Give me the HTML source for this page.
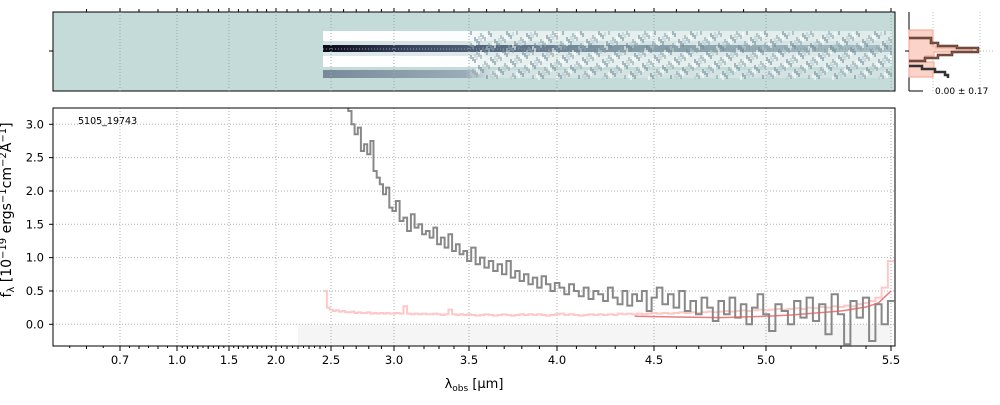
<!DOCTYPE html>
<html><head><meta charset="utf-8"><style>
body{margin:0;background:#fff;}
svg{font-family:"DejaVu Sans","Liberation Sans",sans-serif;}
</style></head><body>
<svg id="c" width="1000" height="400" viewBox="0 0 1000 400">
<defs>
<linearGradient id="trace" x1="0" x2="1" y1="0" y2="0">
<stop offset="0" stop-color="#0a0a18"/><stop offset="0.15" stop-color="#3a4460"/><stop offset="0.5" stop-color="#7f97a4"/><stop offset="1" stop-color="#a9c0c4"/>
</linearGradient>
<linearGradient id="wband" x1="0" x2="1" y1="0" y2="0">
<stop offset="0" stop-color="#fff" stop-opacity="1"/><stop offset="0.25" stop-color="#fff" stop-opacity="0.95"/><stop offset="0.3" stop-color="#fff" stop-opacity="0.6"/><stop offset="1" stop-color="#fff" stop-opacity="0.45"/>
</linearGradient>
<linearGradient id="gband" x1="0" x2="1" y1="0" y2="0">
<stop offset="0" stop-color="#6f8092" stop-opacity="0.9"/><stop offset="0.25" stop-color="#8fa0ae" stop-opacity="0.8"/><stop offset="0.3" stop-color="#dfe8ea" stop-opacity="0.6"/><stop offset="1" stop-color="#dfe8ea" stop-opacity="0.5"/>
</linearGradient>
</defs>
<g id="p2d">
<rect x="53" y="12" width="842" height="79" fill="#c5dbd9"/>
<rect x="323" y="31" width="569" height="10" fill="url(#wband)"/>
<rect x="323" y="41" width="569" height="4" fill="#dde8ea" opacity="0.7"/>
<rect x="323" y="45" width="569" height="7" fill="url(#trace)"/>
<rect x="323" y="52" width="569" height="4" fill="#e6eef0" opacity="0.7"/>
<rect x="323" y="56" width="569" height="11" fill="url(#wband)"/>
<rect x="323" y="70" width="569" height="8" fill="url(#gband)"/>
<g id="noise"></g>
<rect x="53" y="12" width="842" height="79" fill="none" stroke="#000" stroke-width="1"/>
</g>
<g id="side">
<line x1="909" y1="12" x2="909" y2="91" stroke="#000"/>
<line x1="909" y1="91" x2="923" y2="91" stroke="#000"/>
<line x1="933" y1="12" x2="933" y2="91" stroke="#bbb" stroke-dasharray="1,2"/>
<line x1="980" y1="12" x2="980" y2="91" stroke="#bbb" stroke-dasharray="1,2"/>
<line x1="905" y1="51" x2="995" y2="51" stroke="#bbb" stroke-dasharray="1,2"/>
<path d="M909,30 H933 V46 H936 V48 H972 V52 H934 V56 H925 V62 H934 V72 H933 V77 H909 Z" fill="#fbd3c8" stroke="#f4a08a"/>
<polyline points="909,38 931,38 931,43 938,43 938,46 957,46 957,48 978,48 978,52 952,52 952,55 938,55 938,58 925,58 925,61 909,61" fill="none" stroke="#333" stroke-width="2.5"/>
<polyline points="909,38 931,38 931,43 938,43 938,46 957,46 957,48 978,48 978,52 952,52 952,55 938,55 938,58 925,58 925,61 909,61" fill="none" stroke="#c05a3a" stroke-width="1"/>
<polyline points="909,66 922,66 922,69 935,69 935,72 945,72 945,75 948,75 948,78" fill="none" stroke="#333" stroke-width="2.5"/>
<line x1="905" y1="51" x2="909" y2="51" stroke="#000"/>
<text x="935" y="94" font-size="9">0.00 ± 0.17</text>
</g>
<g id="main"></g>
<text x="78" y="124" font-size="9.5">5105_19743</text>
<text x="474" y="388" font-size="13" text-anchor="middle">λ<tspan font-size="9" dy="3">obs</tspan><tspan dy="-3"> [μm]</tspan></text>
<text transform="translate(11,210) rotate(-90)" font-size="14" text-anchor="middle">f<tspan font-size="10" dy="3">λ</tspan><tspan dy="-3"> [10</tspan><tspan font-size="10" dy="-5">−19</tspan><tspan dy="5"> ergs</tspan><tspan font-size="10" dy="-5">−1</tspan><tspan dy="5">cm</tspan><tspan font-size="10" dy="-5">−2</tspan><tspan dy="5">Å</tspan><tspan font-size="10" dy="-5">−1</tspan><tspan dy="5">]</tspan></text>
</svg>
<script>
const xTicks=[0.7,1.0,1.5,2.0,2.5,3.0,3.5,4.0,4.5,5.0,5.5];
const xTickLabels=["0.7","1.0","1.5","2.0","2.5","3.0","3.5","4.0","4.5","5.0","5.5"];
const yTicks=[0,0.5,1,1.5,2,2.5,3];
const yTickLabels=["0.0","0.5","1.0","1.5","2.0","2.5","3.0"];
const waveStart=2.45, waveStep=0.025;
const flux=[4.8,4.6,4.4,4.2,4.0,3.8,3.6,3.4,3.2,
3.0,2.85,2.95,2.6,2.7,2.55,2.75,2.3,2.2,2.1,1.95,2.05,1.75,1.7,1.85,1.55,1.6,1.4,1.65,1.45,1.5,1.35,1.4,1.3,1.45,1.2,1.3,1.15,1.35,1.1,1.2,1.05,1.1,0.95,1.15,0.9,1.0,0.85,0.95,0.8,0.9,0.75,0.95,0.7,0.8,0.65,0.75,0.6,0.7,0.55,0.72,0.6,0.5,0.62,0.55,0.45,0.6,0.5,0.42,0.55,0.38,0.5,0.45,0.35,0.55,0.4,0.3,0.5,0.28,0.45,0.35,0.5,0.2,0.4,0.55,0.3,0.45,0.25,0.5,0.2,0.35,0.15,0.4,0.25,0.05,0.35,0.15,0.4,0.1,0.3,0.0,0.25,0.45,0.15,-0.1,0.3,0.2,0.0,0.35,0.1,0.4,0.05,0.3,-0.15,0.45,0.15,-0.3,0.35,0.1,0.4,-0.25,0.3,0.0,0.35];
const err=[0.5,0.25,0.22,0.2,0.21,0.19,0.2,0.18,0.18,0.19,0.17,0.18,0.17,0.17,0.18,0.16,0.17,0.16,0.17,0.16,0.17,0.16,0.16,0.17,0.16,0.27,0.16,0.15,0.16,0.15,0.16,0.15,0.15,0.16,0.15,0.14,0.15,0.22,0.15,0.14,0.15,0.14,0.15,0.14,0.13,0.14,0.15,0.14,0.13,0.14,0.15,0.14,0.13,0.14,0.15,0.14,0.15,0.14,0.15,0.14,0.13,0.14,0.15,0.16,0.14,0.15,0.14,0.13,0.14,0.15,0.14,0.15,0.14,0.15,0.14,0.16,0.15,0.16,0.15,0.16,0.15,0.16,0.17,0.16,0.17,0.16,0.17,0.18,0.17,0.18,0.17,0.18,0.19,0.18,0.19,0.2,0.19,0.2,0.21,0.2,0.21,0.22,0.21,0.22,0.23,0.22,0.23,0.24,0.23,0.25,0.24,0.26,0.25,0.27,0.26,0.28,0.27,0.3,0.32,0.35,0.4,0.55,0.95];
const modelWave=[4.4,4.6,4.8,5.0,5.1,5.2,5.3,5.4,5.45,5.5];
const model=[0.12,0.11,0.1,0.12,0.14,0.17,0.2,0.26,0.32,0.5];
const shadeRange=[2.2,5.5];

const svg=document.getElementById('c'), main=document.getElementById('main');
const NS='http://www.w3.org/2000/svg';
const L=53,R=895,T=108,B=346;
const xKnots=[[0.5,53],[0.7,120],[1.0,177],[1.5,229],[2.0,276],[2.5,331],[3.0,394],[3.5,469],[4.0,557],[4.5,654],[5.0,766],[5.5,891],[5.6,916]];
function X(w){for(let i=0;i<xKnots.length-1;i++){const a=xKnots[i],b=xKnots[i+1];if(w<=b[0]||i==xKnots.length-2)return a[1]+(w-a[0])*(b[1]-a[1])/(b[0]-a[0]);}}
function Y(v){return 324.3-v*200/3;}
function mk(t,attrs,parent){const e=document.createElementNS(NS,t);for(const k in attrs)e.setAttribute(k,attrs[k]);(parent||main).appendChild(e);return e;}
const wave=flux.map((_,i)=>waveStart+i*waveStep);
const clip=mk('clipPath',{id:'pc'});mk('rect',{x:L,y:T,width:R-L,height:B-T},clip);
let e=mk('rect',{x:L,y:T,width:R-L,height:B-T,fill:'#fff'});


e=mk('rect',{x:X(shadeRange[0]),y:Y(0),width:X(shadeRange[1])-X(shadeRange[0]),height:B-Y(0),fill:'#f5f5f5'});


const p2d=document.getElementById('p2d');
xTicks.forEach((t,i)=>{
 e=mk('line',{x1:X(t),x2:X(t),y1:T,y2:B,stroke:'#b0b0b0','stroke-dasharray':'1,2'});
 
 
 mk('line',{x1:X(t),x2:X(t),y1:12,y2:91,stroke:'#9aa','stroke-dasharray':'1,2'},p2d);
 mk('line',{x1:X(t),x2:X(t),y1:B,y2:B+5,stroke:'#000'});
 mk('line',{x1:X(t),x2:X(t),y1:8,y2:12,stroke:'#000'});
 e=mk('text',{x:X(t),y:B+18,'font-size':11.5,'text-anchor':'middle'});e.textContent=xTickLabels[i];
 
 
});
for(let w=0.6;w<5.55;w+=0.1){const r=Math.round(w*10)/10;if(xTicks.includes(r))continue;
 mk('line',{x1:X(r),x2:X(r),y1:B,y2:B+3,stroke:'#000'});mk('line',{x1:X(r),x2:X(r),y1:9,y2:12,stroke:'#000'});}
for(let w=0.55;w<2.5;w+=0.05){mk('line',{x1:X(w),x2:X(w),y1:B,y2:B+2,stroke:'#000'});}
yTicks.forEach((t,i)=>{
 e=mk('line',{x1:L,x2:R,y1:Y(t),y2:Y(t),stroke:'#b0b0b0','stroke-dasharray':'1,2'});
 
 
 mk('line',{x1:L-4,x2:L,y1:Y(t),y2:Y(t),stroke:'#000'});
 e=mk('text',{x:L-9,y:Y(t)+4,'font-size':11.5,'text-anchor':'end'});e.textContent=yTickLabels[i];
 
 
});
mk('line',{x1:L-4,x2:L,y1:51,y2:51,stroke:'#000'},p2d);
mk('line',{x1:323,x2:892,y1:49,y2:49,stroke:'#8a9aa2','stroke-dasharray':'1,2'},p2d);
function steps(ws,vs,step){let d='';ws.forEach((w,i)=>{const x0=X(w-step/2),x1=X(w+step/2),y=Y(vs[i]);d+=(i?'L':'M')+x0.toFixed(1)+','+y.toFixed(1)+'L'+x1.toFixed(1)+','+y.toFixed(1);});return d;}
e=mk('path',{d:steps(wave,err,waveStep),fill:'none',stroke:'#ffc8c8','stroke-width':2,'clip-path':'url(#pc)'});


e=mk('path',{d:steps(wave,flux,waveStep),fill:'none',stroke:'#888','stroke-width':2,'clip-path':'url(#pc)'});


e=mk('polyline',{points:modelWave.map((w,i)=>X(w)+','+Y(model[i])).join(' '),fill:'none',stroke:'#e06060','stroke-width':1.5,opacity:0.8,'clip-path':'url(#pc)'});


mk('rect',{x:L,y:T,width:R-L,height:B-T,fill:'none',stroke:'#000'});
const nz=document.getElementById('noise');
for(let x=470;x<892;x+=2){for(let k=0;k<5;k++){const y=31+((x*7+k*17)%46);const c=((x*3+k*5)%4);
 mk('rect',{x:x,y:y,width:2,height:4,fill:['#8aa4ac','#ffffff','#6f8a98','#b8ccd0'][c],opacity:0.55},nz);}}
</script>
</body></html>
